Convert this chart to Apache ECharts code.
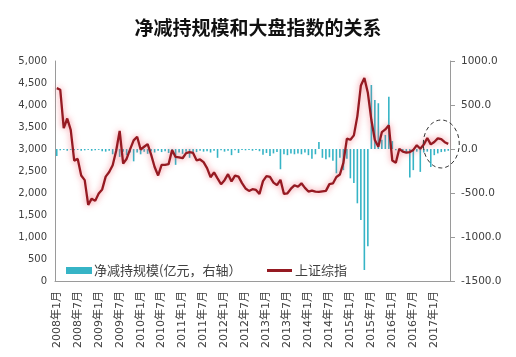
<!DOCTYPE html>
<html><head><meta charset="utf-8">
<script src="https://cdn.jsdelivr.net/npm/echarts@6/dist/echarts.min.js"></script>
<style>html,body{margin:0;padding:0;background:#fff}#c{width:516px;height:357px}</style>
</head><body><div id="c"></div>
<script>
// months 2008-01 .. 2017-05
const months = [];
for (let y = 2008; y <= 2017; y++) for (let m = 1; m <= 12; m++) { if (y === 2017 && m > 5) break; months.push(y + '年' + m + '月'); }

const indexValues = [
  4383, 4348, 3473, 3693, 3433, 2736, 2775, 2397, 2293, 1729, 1871, 1821,
  1991, 2082, 2373, 2477, 2633, 2959, 3412, 2667, 2779, 2996, 3195, 3277,
  2989, 3051, 3110, 2871, 2592, 2398, 2638, 2639, 2656, 2979, 2820, 2808,
  2790, 2905, 2928, 2911, 2743, 2762, 2701, 2567, 2359, 2468, 2333, 2199,
  2292, 2428, 2263, 2396, 2373, 2225, 2103, 2047, 2086, 2069, 1980, 2269,
  2385, 2365, 2237, 2178, 2301, 1979, 1994, 2098, 2175, 2141, 2220, 2116,
  2033, 2056, 2033, 2026, 2039, 2048, 2202, 2217, 2364, 2420, 2683, 3235,
  3210, 3310, 3748, 4442, 4612, 4277, 3664, 3206, 3053, 3383, 3445, 3539,
  2738, 2688, 3004, 2938, 2917, 2930, 2979, 3085, 3005, 3100, 3250, 3104,
  3159, 3242, 3223, 3155, 3117
];

const netReduction = [
  -80, -15, -10, -20, -10, -15, -10, -20, -15, -10, -20, -15,
  -10, -25, -30, -20, -60, -25, -90, -30, -70, -40, -140, -40,
  -60, -30, -55, -25, -40, -20, -35, -25, -45, -60, -180, -40,
  -55, -30, -100, -45, -35, -20, -30, -25, -40, -20, -100, -15,
  -30, -20, -70, -15, -45, -10, -15, -10, -20, -10, -25, -65,
  -45, -80, -50, -35, -230, -60, -70, -50, -60, -50, -60, -40,
  -70, -110, -60, 80, -100, -117, -95, -133, -276, -100, -240, -110,
  -333, -386, -617, -807, -1375, -1106, 727, 557, 520, 105, 160, 595,
  90, -15, -20, -30, -40, -325, -240, -30, -260, -40, -30, -205,
  -70, -50, -35, -30, -20
];

const leftTicks = { min: 0, max: 5000, interval: 500 };
const rightTicks = { min: -1500, max: 1000, interval: 500 };
const barName = '净减持规模(亿元，右轴）';
const lineName = '上证综指';

const chart = echarts.init(document.getElementById('c'), null, { renderer: 'canvas' });
const font = 'DejaVu Sans, Noto Sans CJK SC, sans-serif';
chart.setOption({
  animation: false,
  backgroundColor: '#fff',
  title: {
    text: '净减持规模和大盘指数的关系', left: 'center', top: 13,
    textStyle: { fontSize: 19, fontWeight: 'bold', color: '#111', fontFamily: 'Noto Sans CJK SC, sans-serif' }
  },
  legend: [
    { data: [{ name: barName, icon: 'rect' }], left: 61, top: 259, itemWidth: 26, itemHeight: 7, itemGap: 0,
      textStyle: { fontSize: 13, color: '#404040', fontFamily: 'Noto Sans CJK SC, sans-serif', padding: [0, 0, 0, -3] } },
    { data: [{ name: lineName, icon: 'rect' }], left: 262, top: 259, itemWidth: 25, itemHeight: 3, itemGap: 0,
      textStyle: { fontSize: 13, color: '#404040', fontFamily: 'Noto Sans CJK SC, sans-serif', padding: [0, 0, 0, -2] } }
  ],
  grid: { left: 55, right: 66, top: 61, bottom: 76, containLabel: false },
  xAxis: {
    type: 'category', data: months, boundaryGap: true,
    axisLine: { lineStyle: { color: '#9a9a9a', width: 1 } },
    axisTick: { show: false },
    axisLabel: { interval: 5, rotate: 90, fontSize: 11, color: '#404040', margin: 10, fontFamily: font }
  },
  yAxis: [
    { type: 'value', min: leftTicks.min, max: leftTicks.max, interval: leftTicks.interval, position: 'left',
      axisLine: { show: true, lineStyle: { color: '#9a9a9a' } }, axisTick: { show: false }, splitLine: { show: false },
      axisLabel: { fontSize: 10, color: '#404040', margin: 8, fontFamily: font,
        formatter: v => v.toLocaleString('en-US') } },
    { type: 'value', min: rightTicks.min, max: rightTicks.max, interval: rightTicks.interval, position: 'right',
      axisLine: { show: true, lineStyle: { color: '#9a9a9a' } },
      axisTick: { show: true, length: 5, lineStyle: { color: '#9a9a9a' } }, splitLine: { show: false },
      axisLabel: { fontSize: 10.5, color: '#404040', margin: 11, fontFamily: font,
        formatter: v => v.toFixed(1) } }
  ],
  series: [
    { name: barName, type: 'bar', yAxisIndex: 1, data: netReduction, barWidth: 1.6,
      itemStyle: { color: '#36b4c6' }, z: 2 },
    { name: lineName, type: 'line', yAxisIndex: 0, data: indexValues, symbol: 'none', smooth: false,
      itemStyle: { color: '#951a22' },
      lineStyle: { color: '#951a22', width: 2.3, shadowColor: 'rgba(240,80,95,0.75)', shadowBlur: 6 }, z: 3 }
  ]
});

const c = chart.convertToPixel({ xAxisIndex: 0, yAxisIndex: 0 }, [months[110], 3114]);
chart.setOption({
  graphic: [{ type: 'ellipse', shape: { cx: c[0], cy: c[1], rx: 18, ry: 24 },
    style: { fill: 'none', stroke: '#333', lineWidth: 1, lineDash: [4, 3] }, z: 10 }]
});
</script></body></html>
